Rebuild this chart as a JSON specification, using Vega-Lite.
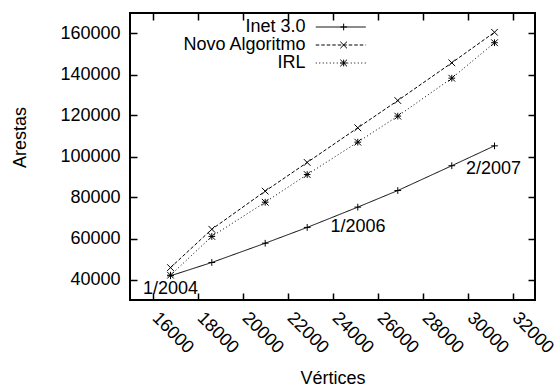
{
  "$schema": "https://vega.github.io/schema/vega-lite/v6.json",
  "width": 405,
  "height": 287,
  "autosize": "none",
  "padding": {"left": 130, "top": 13, "right": 22, "bottom": 87},
  "background": "white",
  "config": {
    "font": "Liberation Sans",
    "view": {"stroke": "black", "strokeWidth": 2},
    "axis": {
      "grid": false,
      "domain": false,
      "tickColor": "black",
      "tickWidth": 1.5,
      "tickSize": -7,
      "labelColor": "black",
      "labelFontSize": 18,
      "labelFont": "Liberation Sans",
      "titleFont": "Liberation Sans",
      "titleFontSize": 18,
      "titleFontWeight": "normal",
      "titleColor": "black"
    }
  },
  "datasets": {
    "series": [
      {"series": "Inet 3.0", "vertices": 16800, "edges": 41800},
      {"series": "Inet 3.0", "vertices": 18636, "edges": 48300},
      {"series": "Inet 3.0", "vertices": 21009, "edges": 57700},
      {"series": "Inet 3.0", "vertices": 22875, "edges": 65400},
      {"series": "Inet 3.0", "vertices": 25124, "edges": 75300},
      {"series": "Inet 3.0", "vertices": 26902, "edges": 83400},
      {"series": "Inet 3.0", "vertices": 29302, "edges": 95500},
      {"series": "Inet 3.0", "vertices": 31200, "edges": 105200},
      {"series": "Novo Algoritmo", "vertices": 16800, "edges": 45800},
      {"series": "Novo Algoritmo", "vertices": 18636, "edges": 64500},
      {"series": "Novo Algoritmo", "vertices": 21009, "edges": 83100},
      {"series": "Novo Algoritmo", "vertices": 22875, "edges": 97100},
      {"series": "Novo Algoritmo", "vertices": 25124, "edges": 114000},
      {"series": "Novo Algoritmo", "vertices": 26902, "edges": 127300},
      {"series": "Novo Algoritmo", "vertices": 29302, "edges": 145700},
      {"series": "Novo Algoritmo", "vertices": 31200, "edges": 160600},
      {"series": "IRL", "vertices": 16800, "edges": 42100},
      {"series": "IRL", "vertices": 18636, "edges": 61000},
      {"series": "IRL", "vertices": 21009, "edges": 77700},
      {"series": "IRL", "vertices": 22875, "edges": 91200},
      {"series": "IRL", "vertices": 25124, "edges": 107000},
      {"series": "IRL", "vertices": 26902, "edges": 119700},
      {"series": "IRL", "vertices": 29302, "edges": 138200},
      {"series": "IRL", "vertices": 31200, "edges": 155500}
    ],
    "labels": [
      {"label": "1/2004", "vertices": 16800, "edges": 35600},
      {"label": "1/2006", "vertices": 25130, "edges": 65600},
      {"label": "2/2007", "vertices": 31160, "edges": 93700}
    ]
  },
  "layer": [
    {
      "data": {"name": "series"},
      "mark": {"type": "line", "color": "black", "strokeWidth": 1},
      "encoding": {
        "x": {
          "field": "vertices", "type": "quantitative",
          "scale": {"domain": [15000, 33000], "nice": false, "zero": false},
          "axis": {
            "orient": "bottom",
            "title": "Vértices",
            "values": [16000, 18000, 20000, 22000, 24000, 26000, 28000, 30000, 32000],
            "format": "d",
            "labelAngle": 45,
            "labelAlign": "left",
            "labelBaseline": "middle",
            "labelPadding": 22,
            "labelOffset": 2,
            "labelOverlap": false,
            "labelBound": false,
            "titleY": 83,
            "titleBaseline": "alphabetic"
          }
        },
        "y": {
          "field": "edges", "type": "quantitative",
          "scale": {"domain": [30000, 170000], "nice": false, "zero": false},
          "axis": {
            "orient": "left",
            "title": "Arestas",
            "values": [40000, 60000, 80000, 100000, 120000, 140000, 160000],
            "format": "d",
            "labelPadding": 17,
            "labelOverlap": false,
            "titleX": -110,
            "titleY": 124,
            "titleBaseline": "middle",
            "titleAngle": 270
          }
        },
        "strokeDash": {
          "field": "series", "type": "nominal",
          "scale": {"domain": ["Inet 3.0", "Novo Algoritmo", "IRL"], "range": [[1, 0], [3.5, 2], [1, 2.5]]},
          "legend": {
            "orient": "none",
            "legendX": 201.75,
            "legendY": 5,
            "title": null,
            "padding": 0,
            "symbolType": "M-4,0L4,0",
            "symbolSize": 156.25,
            "symbolStrokeColor": "black",
            "symbolStrokeWidth": 1,
            "labelAlign": "right",
            "labelOffset": -44.25,
            "labelFontSize": 18,
            "labelColor": "black",
            "labelFont": "Liberation Sans",
            "rowPadding": 0
          }
        }
      }
    },
    {
      "data": {"name": "series"},
      "mark": {"type": "point", "filled": false, "color": "black", "strokeWidth": 1, "size": 45, "opacity": 1},
      "encoding": {
        "x": {
          "field": "vertices", "type": "quantitative",
          "scale": {"domain": [15000, 33000], "nice": false, "zero": false},
          "axis": {"orient": "top", "title": null, "labels": false, "values": [16000, 18000, 20000, 22000, 24000, 26000, 28000, 30000, 32000]}
        },
        "y": {
          "field": "edges", "type": "quantitative",
          "scale": {"domain": [30000, 170000], "nice": false, "zero": false},
          "axis": {"orient": "right", "title": null, "labels": false, "values": [40000, 60000, 80000, 100000, 120000, 140000, 160000]}
        },
        "shape": {
          "field": "series", "type": "nominal",
          "scale": {"range": ["M-1,0L1,0M0,-1L0,1M-1,-1L1,1M-1,1L1,-1", "M-1,0L1,0M0,-1L0,1", "M-1,-1L1,1M-1,1L1,-1"]},
          "legend": {
            "orient": "none",
            "legendX": 204.65,
            "legendY": 5,
            "title": null,
            "padding": 0,
            "values": ["Inet 3.0", "Novo Algoritmo", "IRL"],
            "symbolSize": 45,
            "symbolStrokeColor": "black",
            "symbolFillColor": "transparent",
            "symbolStrokeWidth": 1,
            "labelExpr": "' '",
            "labelFontSize": 18,
            "rowPadding": 0
          }
        }
      }
    },
    {
      "data": {"name": "labels"},
      "mark": {"type": "text", "fontSize": 18, "font": "Liberation Sans", "color": "black", "align": "center", "baseline": "middle"},
      "encoding": {
        "x": {"field": "vertices", "type": "quantitative", "axis": null},
        "y": {"field": "edges", "type": "quantitative", "axis": null},
        "text": {"field": "label"}
      }
    }
  ],
  "resolve": {"axis": {"x": "independent", "y": "independent"}}
}
